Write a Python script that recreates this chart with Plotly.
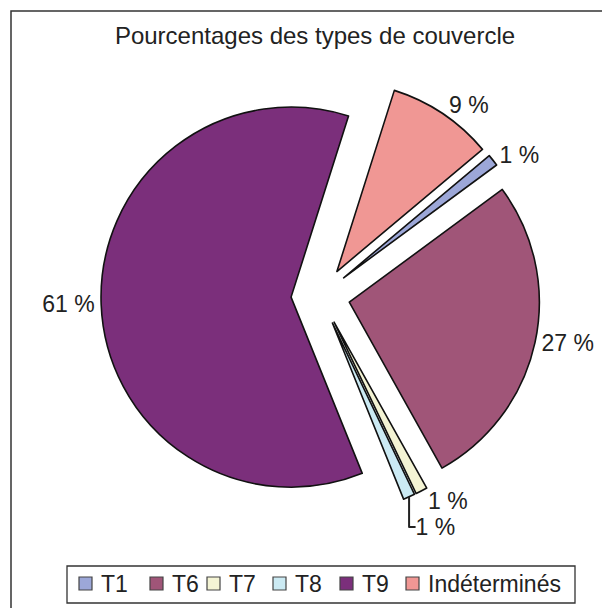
import plotly.graph_objects as go

# pie data, clockwise from T1
labels = ["T1", "T6", "T7", "T8", "T9", "Indéterminés"]
values = [1, 27, 1, 1, 61, 9]
texts = ["1 %", "27 %", "1 %", "1 %", "61 %", "9 %"]
colors = ["#9ca7d8", "#a05578", "#f4f4d4", "#cbeaf3", "#7b2f7b", "#f09794"]

W, H = 602, 600   # page body has an 8px margin


def px(x):
    return (x - 8) / W


def py(y):
    return 1 - (y - 8) / H


fig = go.Figure(
    go.Pie(
        labels=labels,
        values=values,
        text=texts,
        textinfo="text",
        textposition="outside",
        sort=False,
        direction="clockwise",
        rotation=50,
        pull=[0.155] * len(values),
        marker={"colors": colors, "line": {"color": "#111111", "width": 1.6}},
        outsidetextfont={"size": 23, "color": "#222222"},
        domain={"x": [px(101), px(540)], "y": [py(515.5), py(76.5)]},
        hoverinfo="label+percent",
        showlegend=False,
    )
)

# legend drawn by hand so the spacing matches the original
shapes = [
    dict(type="rect", xref="paper", yref="paper",
         x0=px(11), x1=1.03, y0=-0.03, y1=py(11),
         line={"color": "#333333", "width": 1.5}),
    dict(type="rect", xref="paper", yref="paper",
         x0=px(67), x1=px(575), y0=py(603), y1=py(566),
         line={"color": "#333333", "width": 1.3}),
]
annotations = []
leg_x = [79, 150, 207, 273, 340, 406]
for lab, col, x in zip(labels, colors, leg_x):
    shapes.append(dict(type="rect", xref="paper", yref="paper",
                       x0=px(x), x1=px(x + 13), y0=py(590), y1=py(577),
                       fillcolor=col, line={"color": "#444444", "width": 1.2}))
    annotations.append(dict(text=lab, xref="paper", yref="paper",
                            x=px(x + 20), y=py(584), xanchor="left", yanchor="middle",
                            showarrow=False, font={"size": 23, "color": "#222222"}))

fig.update_layout(
    width=W,
    height=H,
    margin={"l": 0, "r": 0, "t": 0, "b": 0, "autoexpand": False},
    paper_bgcolor="white",
    font={"family": "Liberation Sans, Arial, sans-serif", "size": 23, "color": "#222222"},
    title={
        "text": "Pourcentages des types de couvercle",
        "x": px(315), "xanchor": "center",
        "y": py(36), "yanchor": "middle",
        "font": {"size": 24, "color": "#222222"},
    },
    showlegend=False,
    shapes=shapes,
    annotations=annotations,
)

fig.write_html("out.html")
